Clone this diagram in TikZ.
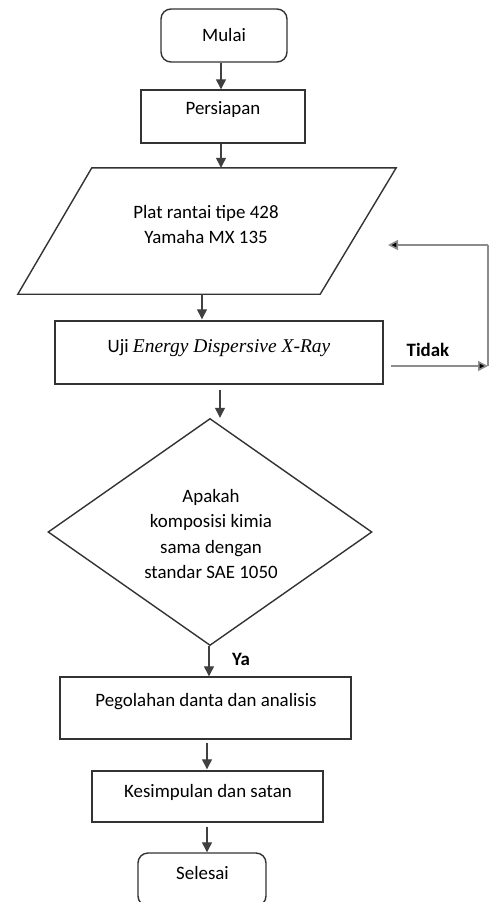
\documentclass[tikz,border=0pt]{standalone}
\usepackage{fontspec}
\setmainfont{Carlito}
\newfontfamily\tms{Liberation Serif}
\usetikzlibrary{arrows.meta,shapes.geometric}
\begin{document}
\begin{tikzpicture}[x=1pt,y=-1pt,
  txt/.style={font=\fontsize{18.9}{25}\selectfont, text=black, inner sep=0pt, align=center},
  boxs/.style={draw=black!80, line width=1.4pt, inner sep=0pt},
  termbox/.style={boxs, rounded corners=10pt},
  arr/.style={draw=black!75, line width=1.2pt, -{Triangle[width=10pt,length=10pt]}},
  fbline/.style={draw=black!45, line width=1.6pt},
  fbarr/.style={fbline, -{Triangle[width=10pt,length=10pt,fill=black]}}
]
\useasboundingbox (0,0) rectangle (490,902);
\clip (0,0) rectangle (490,902);
\fill[white] (0,0) rectangle (490,902);

% shapes
\node[termbox, minimum width=126pt, minimum height=53pt] (mulai) at (224,35.5) {};
\node[boxs, minimum width=164pt, minimum height=53pt] (pers) at (223,116.5) {};
\node[inner sep=0pt, minimum width=378pt, minimum height=126pt] (para) at (207,231) {};
\draw[boxs] (para.south west) -- ([xshift=74pt]para.north west) -- (para.north east) -- ([xshift=-76pt]para.south east) -- cycle;
\node[boxs, minimum width=328pt, minimum height=63pt] (edx) at (219,352.5) {};
\node[boxs, diamond, minimum width=324pt, minimum height=227pt] (dia) at (210,532) {};
\node[boxs, minimum width=291pt, minimum height=62pt] (peg) at (205.5,708) {};
\node[boxs, minimum width=231pt, minimum height=51pt] (kes) at (207.5,796.5) {};
\node[termbox, minimum width=128pt, minimum height=53pt] (sel) at (202,879.5) {};

% texts
\node[txt] (tmulai) at (224,35) {Mulai};
\node[txt] (tpers) at (223,110) {Persiapan};
\node[txt] (tpara) at (206,225) {Plat rantai tipe 428\\Yamaha MX 135};
\node[txt] (tedx) at (219,348) {Uji {\tms\itshape\fontsize{19.5}{25}\selectfont Energy Dispersive X-Ray}};
\node[txt, font=\fontsize{18.9}{25.3}\selectfont] (tdia) at (211,534) {Apakah\\komposisi kimia\\sama dengan\\standar SAE 1050};
\node[txt] (tpeg) at (206,702) {Pegolahan danta dan analisis};
\node[txt] (tkes) at (208,792) {Kesimpulan dan satan};
\node[txt] (tsel) at (202.5,873) {Selesai};
\node[txt, font=\bfseries\fontsize{18.9}{25}\selectfont] (ttidak) at (428,350) {Tidak};
\node[txt, font=\bfseries\fontsize{18.9}{25}\selectfont] (tya) at (241,659) {Ya};

% connectors
\draw[arr] ([xshift=-3pt]mulai.south) -- ([xshift=-3pt]mulai.south |- pers.north);
\draw[arr] ([xshift=-2pt]pers.south) -- ([xshift=-2pt]pers.south |- para.north);
\draw[arr] ([xshift=-5pt]para.south) -- ([xshift=-5pt,yshift=1pt]para.south |- edx.north);
\draw[arr] ([xshift=1pt,yshift=-5pt]edx.south) -- ([xshift=1pt]edx.south |- dia.north);
\draw[arr] ([xshift=-1pt]dia.south) -- ([xshift=-1pt]dia.south |- peg.north);
\draw[arr] ([xshift=1.5pt,yshift=-3pt]peg.south) -- ([xshift=1.5pt,yshift=1pt]peg.south |- kes.north);
\draw[arr] ([xshift=-0.5pt,yshift=-4pt]kes.south) -- ([xshift=-0.5pt]kes.south |- sel.north);

\coordinate (t1) at (488,366);
\coordinate (t2) at (488,245);
\coordinate (fbend) at (388,245);
\draw[fbarr] ([xshift=7pt]edx.east |- t1) -- (t1);
\draw[fbline] (t1) -- (t2);
\draw[fbarr] (t2) -- (fbend);
\end{tikzpicture}
\end{document}
